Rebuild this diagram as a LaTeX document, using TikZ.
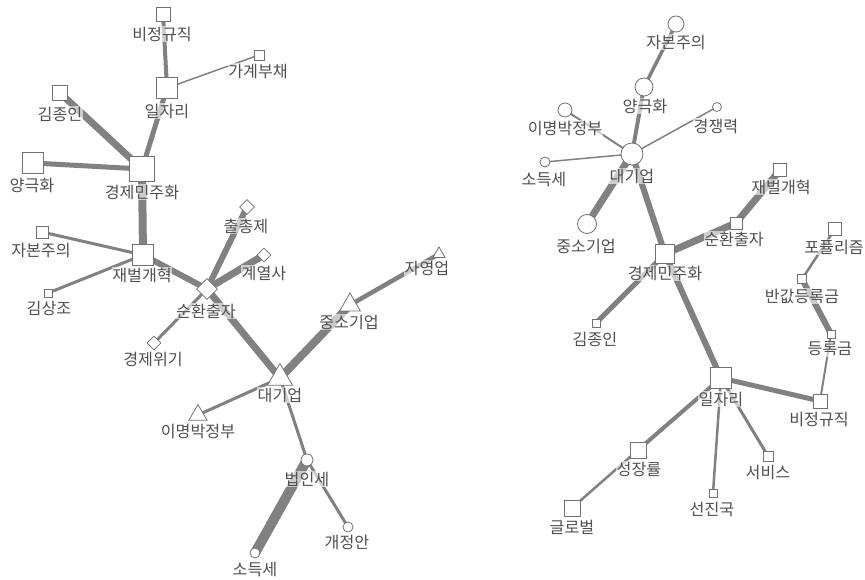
\documentclass[tikz,border=0pt]{standalone}
\usepackage{fontspec}
\setmainfont{Noto Sans CJK KR}
\usetikzlibrary{shapes.geometric,backgrounds}
\definecolor{linkgray}{HTML}{818181}
\definecolor{nodeline}{HTML}{727272}
\definecolor{txtgray}{HTML}{505050}
\tikzset{
  sq/.style={draw=nodeline, line width=0.6pt, fill=white, inner sep=0pt, minimum size=0.75pt*#1},
  cir/.style={circle, draw=nodeline, line width=0.6pt, fill=white, inner sep=0pt, minimum size=0.75pt*#1},
  dia/.style={diamond, draw=nodeline, line width=0.6pt, fill=white, inner sep=0pt, minimum size=0.75pt*#1},
  tri/.style={regular polygon, regular polygon sides=3, draw=nodeline, line width=0.6pt, fill=white, inner sep=0pt, minimum size=0.75pt*#1},
  lbl/.style={font=\fontsize{12.1}{13}\selectfont, text=txtgray, fill=white, fill opacity=0.6, text opacity=1, inner sep=0.5pt},
  link/.style={draw=linkgray, line width=0.75pt*#1}
}
\begin{document}
\begin{tikzpicture}[x=0.75pt, y=-0.75pt]
    \useasboundingbox (0,0) rectangle (865,580);

    % 왼쪽 네트워크: 노드
    \node[sq=14] (aIrregular) at (163,14) {};
    \node[sq=10] (aDebt) at (259,55) {};
    \node[sq=21] (aJobs) at (167,88) {};
    \node[sq=15] (aKim) at (60,93) {};
    \node[sq=21] (aPolar) at (33,163) {};
    \node[sq=25] (aEcoDemo) at (142,169) {};
    \node[sq=12] (aCapital) at (42,232) {};
    \node[sq=21] (aReform) at (143,255) {};
    \node[sq=8] (aKimSC) at (48,293) {};
    \node[dia=21] (aCross) at (207,289) {};
    \node[dia=15] (aCeiling) at (247,207) {};
    \node[dia=14] (aAffil) at (264,255) {};
    \node[dia=14] (aCrisis) at (154,343) {};
    \node[tri=29] (aBig) at (280,378) {};
    \node[tri=21] (aMB) at (198,415) {};
    \node[tri=14] (aSelf) at (439,254) {};
    \node[tri=24] (aSME) at (350,305) {};
    \node[cir=12] (aCorpTax) at (307,460) {};
    \node[cir=10] (aIncTax) at (255,553) {};
    \node[cir=10] (aRevision) at (348,527) {};

    % 오른쪽 네트워크: 노드
    \node[cir=16] (bCapital) at (676,24) {};
    \node[cir=18] (bPolar) at (644,87) {};
    \node[cir=14] (bMB) at (565,110) {};
    \node[cir=9] (bCompete) at (717,107) {};
    \node[cir=22] (bBig) at (632,154) {};
    \node[cir=10] (bIncTax) at (545,162) {};
    \node[cir=19] (bSME) at (587,224) {};
    \node[sq=19] (bEcoDemo) at (665,254) {};
    \node[sq=12] (bCross) at (736,223) {};
    \node[sq=13] (bReform) at (780,170) {};
    \node[sq=13] (bPopul) at (835,229) {};
    \node[sq=9] (bHalfTuition) at (802,279) {};
    \node[sq=8] (bTuition) at (831,334) {};
    \node[sq=8] (bKim) at (596,323) {};
    \node[sq=21] (bJobs) at (721,378) {};
    \node[sq=14] (bIrregular) at (820,401) {};
    \node[sq=16] (bGrowth) at (638,450) {};
    \node[sq=10] (bService) at (768,456) {};
    \node[sq=8] (bAdvanced) at (713,493) {};
    \node[sq=16] (bGlobal) at (572,508) {};

    % 연결선 (굵기 = 동시출현 빈도)
    \begin{pgfonlayer}{background}
    \draw[link=4] (aIrregular.center) -- (aJobs.center);
    \draw[link=1.5] (aDebt.center) -- (aJobs.center);
    \draw[link=5] (aJobs.center) -- (aEcoDemo.center);
    \draw[link=7] (aKim.center) -- (aEcoDemo.center);
    \draw[link=5] (aPolar.center) -- (aEcoDemo.center);
    \draw[link=8] (aEcoDemo.center) -- (aReform.center);
    \draw[link=3] (aCapital.center) -- (aReform.center);
    \draw[link=3] (aKimSC.center) -- (aReform.center);
    \draw[link=6] (aReform.center) -- (aCross.center);
    \draw[link=6] (aCross.center) -- (aCeiling.center);
    \draw[link=7] (aCross.center) -- (aAffil.center);
    \draw[link=3] (aCross.center) -- (aCrisis.center);
    \draw[link=7] (aCross.center) -- (aBig.center);
    \draw[link=8] (aBig.center) -- (aSME.center);
    \draw[link=4.5] (aSME.center) -- (aSelf.center);
    \draw[link=3] (aBig.center) -- (aMB.center);
    \draw[link=3] (aBig.center) -- (aCorpTax.center);
    \draw[link=10] (aCorpTax.center) -- (aIncTax.center);
    \draw[link=3] (aCorpTax.center) -- (aRevision.center);

    \draw[link=3.5] (bCapital.center) -- (bPolar.center);
    \draw[link=4] (bPolar.center) -- (bBig.center);
    \draw[link=2] (bMB.center) -- (bBig.center);
    \draw[link=1.5] (bCompete.center) -- (bBig.center);
    \draw[link=1.5] (bIncTax.center) -- (bBig.center);
    \draw[link=7] (bBig.center) -- (bSME.center);
    \draw[link=6] (bBig.center) -- (bEcoDemo.center);
    \draw[link=7] (bEcoDemo.center) -- (bCross.center);
    \draw[link=7] (bCross.center) -- (bReform.center);
    \draw[link=5] (bEcoDemo.center) -- (bKim.center);
    \draw[link=6] (bEcoDemo.center) -- (bJobs.center);
    \draw[link=5] (bJobs.center) -- (bIrregular.center);
    \draw[link=4] (bJobs.center) -- (bGrowth.center);
    \draw[link=2.5] (bGrowth.center) -- (bGlobal.center);
    \draw[link=2.5] (bJobs.center) -- (bAdvanced.center);
    \draw[link=3] (bJobs.center) -- (bService.center);
    \draw[link=2.5] (bPopul.center) -- (bHalfTuition.center);
    \draw[link=6] (bHalfTuition.center) -- (bTuition.center);
    \draw[link=2] (bTuition.center) -- (bIrregular.center);
    \end{pgfonlayer}

    % 왼쪽 라벨
    \node[lbl] (aIrregular-l) at (162,34) {비정규직};
    \node[lbl] (aDebt-l) at (258,71) {가계부채};
    \node[lbl] (aJobs-l) at (167,111) {일자리};
    \node[lbl] (aKim-l) at (60,114) {김종인};
    \node[lbl] (aPolar-l) at (32,185) {양극화};
    \node[lbl] (aEcoDemo-l) at (142,192) {경제민주화};
    \node[lbl] (aCapital-l) at (41,250) {자본주의};
    \node[lbl] (aReform-l) at (142,275) {재벌개혁};
    \node[lbl] (aKimSC-l) at (49,308) {김상조};
    \node[lbl] (aCross-l) at (206,311) {순환출자};
    \node[lbl] (aCeiling-l) at (246,226) {출총제};
    \node[lbl] (aAffil-l) at (264,273) {계열사};
    \node[lbl] (aCrisis-l) at (153,359) {경제위기};
    \node[lbl] (aBig-l) at (280,395) {대기업};
    \node[lbl] (aMB-l) at (198,431) {이명박정부};
    \node[lbl] (aSelf-l) at (427,268) {자영업};
    \node[lbl] (aSME-l) at (349,322) {중소기업};
    \node[lbl] (aCorpTax-l) at (307,479) {법인세};
    \node[lbl] (aIncTax-l) at (255,569) {소득세};
    \node[lbl] (aRevision-l) at (347,542) {개정안};

    % 오른쪽 라벨
    \node[lbl] (bCapital-l) at (676,42) {자본주의};
    \node[lbl] (bPolar-l) at (645,106) {양극화};
    \node[lbl] (bMB-l) at (565,128) {이명박정부};
    \node[lbl] (bCompete-l) at (716,126) {경쟁력};
    \node[lbl] (bBig-l) at (632,176) {대기업};
    \node[lbl] (bIncTax-l) at (544,179) {소득세};
    \node[lbl] (bSME-l) at (586,246) {중소기업};
    \node[lbl] (bEcoDemo-l) at (665,273) {경제민주화};
    \node[lbl] (bCross-l) at (734,239) {순환출자};
    \node[lbl] (bReform-l) at (781,187) {재벌개혁};
    \node[lbl] (bPopul-l) at (834,247) {포퓰리즘};
    \node[lbl] (bHalfTuition-l) at (802,296) {반값등록금};
    \node[lbl] (bTuition-l) at (830,349) {등록금};
    \node[lbl] (bKim-l) at (595,339) {김종인};
    \node[lbl] (bJobs-l) at (721,399) {일자리};
    \node[lbl] (bIrregular-l) at (819,419) {비정규직};
    \node[lbl] (bGrowth-l) at (639,469) {성장률};
    \node[lbl] (bService-l) at (768,472) {서비스};
    \node[lbl] (bAdvanced-l) at (712,509) {선진국};
    \node[lbl] (bGlobal-l) at (572,527) {글로벌};
\end{tikzpicture}
\end{document}
